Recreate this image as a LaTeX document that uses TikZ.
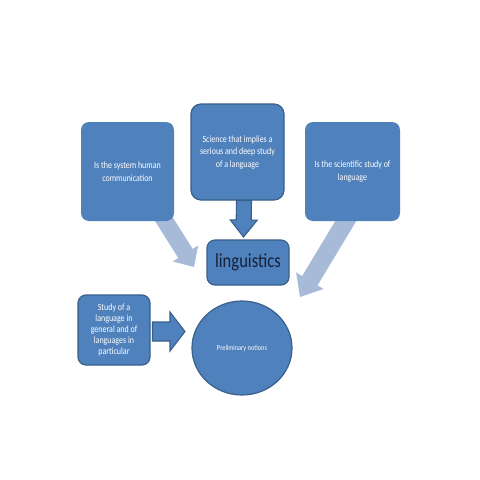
\documentclass[tikz,border=0pt]{standalone}
\usepackage{fontspec}
\setmainfont[FakeStretch=0.83]{Carlito}
\usetikzlibrary{calc,shapes.geometric}
\definecolor{ofblue}{HTML}{4F81BD}
\definecolor{ofline}{HTML}{3A5F8B}
\definecolor{lightarr}{HTML}{A7BBD9}
\definecolor{ink}{HTML}{16213A}
\tikzset{
  plainbox/.style={draw=none, fill=ofblue, rounded corners=8pt, inner sep=0pt,
    text=white, align=center, font=\fontsize{9.6}{12.5}\selectfont},
  linedbox/.style={plainbox, draw=ofline, line width=1.2pt},
  lightblock/.style={fill=lightarr, draw=none},
  darkblock/.style={fill=ofblue, draw=ofline, line width=1.1pt, line join=miter},
}
\newcommand\blockarr[6]{%
  \path ($(#3)!#6!(#2)$) coordinate (ba-b);
  \path[#1] ($(#2)!#4!90:(#3)$) -- ($(ba-b)!#4!90:(#3)$) -- ($(ba-b)!#5!90:(#3)$)
    -- (#3) -- ($(ba-b)!#5!-90:(#3)$) -- ($(ba-b)!#4!-90:(#3)$)
    -- ($(#2)!#4!-90:(#3)$) -- cycle;
}
\begin{document}
\begin{tikzpicture}[x=1pt,y=-1pt]
\useasboundingbox (0,0) rectangle (480,480);
\fill[white] (0,0) rectangle (480,480);

% light arrows (behind the boxes)
\coordinate (la-s) at (160,213);
\coordinate (la-t) at (194,267);
\coordinate (ra-s) at (350,214);
\coordinate (ra-t) at (300,297);
\blockarr{lightblock}{la-s}{la-t}{8.5pt}{15pt}{16pt}
\blockarr{lightblock}{ra-s}{ra-t}{9pt}{16pt}{19pt}

% boxes
\node[plainbox, minimum width=93pt, minimum height=99pt] (sys) at (127.5,171.5)
  {Is the system human\\communication};
\node[linedbox, rounded corners=10pt, minimum width=93pt, minimum height=96pt] (sci) at (237.5,152)
  {\raisebox{3pt}{\parbox{90pt}{\centering Science that implies a\\serious and deep study\\of a language}}};
\node[plainbox, minimum width=95pt, minimum height=99pt] (stu) at (352.5,171.5)
  {Is the scientific study of\\language};
\node[linedbox, minimum width=82pt, minimum height=45pt, text=ink,
  font=\fontsize{20}{24}\selectfont] (ling) at (248,262.5) {linguistics};
\node[linedbox, minimum width=72pt, minimum height=70pt,
  font=\fontsize{9.6}{10.9}\selectfont] (gen) at (114,330)
  {Study of a\\language in\\general and of\\languages in\\particular};
\node[ellipse, fill=ofblue, draw=ofline, line width=1.2pt, minimum width=100pt,
  minimum height=94pt, inner sep=0pt, text=white, font=\fontsize{7.6}{9}\selectfont]
  (pre) at (242,348) {\raisebox{-3pt}{Preliminary notions}};

% dark block arrows
\coordinate (da-s) at ($(sci.south)+(6.5,0)$);
\coordinate (da-t) at (243.5,237);
\blockarr{darkblock}{da-s}{da-t}{7.5pt}{13.5pt}{17pt}
\coordinate (sa-s) at (152.5,331.5);
\coordinate (sa-t) at (185,331.5);
\blockarr{darkblock}{sa-s}{sa-t}{9.5pt}{19.5pt}{15pt}
\end{tikzpicture}
\end{document}
